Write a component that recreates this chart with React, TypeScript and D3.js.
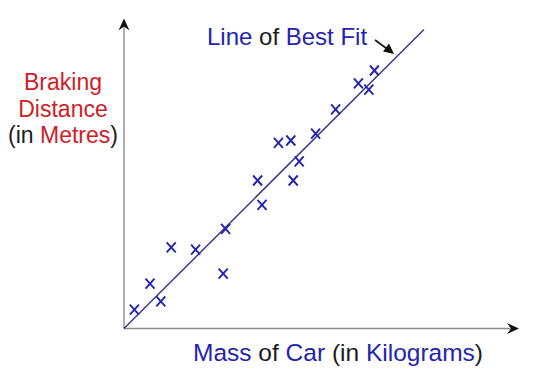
import React from "react";
import * as d3 from "d3";

const massValues = [2.6, 6.5, 9.2, 11.8, 17.9, 24.8, 25.4, 33.4, 34.5, 38.6, 41.7, 42.3, 43.8, 47.9, 52.9, 58.6, 61.2, 62.6];
const distanceValues = [4.7, 11.2, 6.8, 20.3, 19.7, 13.7, 24.9, 37.0, 30.9, 46.4, 47.0, 37.0, 41.8, 48.7, 54.8, 61.3, 59.7, 64.5];
const fitStart = [0, 0];
const fitEnd = [75, 74.75];
const axisMax = [98.75, 77.5];

const BLUE = "#2424b0";
const RED = "#cf2027";
const BLACK = "#1c1c1c";
const FONT = "'Liberation Sans', Arial, sans-serif";

export default function App() {
  const W = 541, H = 390;
  const x = d3.scaleLinear().domain([0, 100]).range([124, 524]);
  const y = d3.scaleLinear().domain([0, 80]).range([328.5, 8.5]);
  const pts = massValues.map((m, i) => [x(m), y(distanceValues[i])]);
  const lineGen = d3.line();
  const fitPath = lineGen([[x(fitStart[0]), y(fitStart[1])], [x(fitEnd[0]), y(fitEnd[1])]]);
  const x0 = x(0), y0 = y(0);
  const xt = x(axisMax[0]), yt = y(axisMax[1]);
  const s = 4.5, t = 5;
  return (
    <svg width={W} height={H} style={{ position: "absolute", left: 0, top: 0, background: "#fff" }}>
      <rect width={W} height={H} fill="#fff" />
      {/* axes */}
      <line x1={x0} y1={y0} x2={x0} y2={yt + 6} stroke="#8a8a8a" strokeWidth={1.4} />
      <line x1={x0} y1={y0} x2={xt - 6} y2={y0} stroke="#8a8a8a" strokeWidth={1.4} />
      <path d={`M${x0},${yt} L${x0 + 5.5},${yt + 12} L${x0},${yt + 8} L${x0 - 5.5},${yt + 12} Z`} fill="#111" />
      <path d={`M${xt},${y0} L${xt - 12},${y0 - 5.5} L${xt - 8},${y0} L${xt - 12},${y0 + 5.5} Z`} fill="#111" />
      {/* best fit line */}
      <path d={fitPath || ""} stroke="#3a3a8c" strokeWidth={1.5} fill="none" />
      {/* data points */}
      {pts.map(([px, py], i) => (
        <path key={i} d={`M${px - s},${py - t} L${px + s},${py + t} M${px + s},${py - t} L${px - s},${py + t}`}
          stroke={BLUE} strokeWidth={1.9} fill="none" />
      ))}
      {/* annotation */}
      <text x={207} y={45} fontFamily={FONT} fontSize={24}>
        <tspan fill={BLUE}>Line</tspan>
        <tspan fill={BLACK}> of </tspan>
        <tspan fill={BLUE}>Best Fit</tspan>
      </text>
      <line x1={375} y1={40} x2={388} y2={49.5} stroke="#111" strokeWidth={1.6} />
      <path d="M394,54 L383,51.5 L389,43.5 Z" fill="#111" />
      {/* y label */}
      <text fontFamily={FONT} fontSize={23} textAnchor="middle">
        <tspan x={63} y={90} fill={RED}>Braking</tspan>
        <tspan x={63} y={117} fill={RED}>Distance</tspan>
        <tspan x={63} y={143}><tspan fill={BLACK}>(in </tspan><tspan fill={RED}>Metres</tspan><tspan fill={BLACK}>)</tspan></tspan>
      </text>
      {/* x label */}
      <text x={193} y={361} fontFamily={FONT} fontSize={24.5}>
        <tspan fill={BLUE}>Mass</tspan>
        <tspan fill={BLACK}> of </tspan>
        <tspan fill={BLUE}>Car</tspan>
        <tspan fill={BLACK}> (in </tspan>
        <tspan fill={BLUE}>Kilograms</tspan>
        <tspan fill={BLACK}>)</tspan>
      </text>
    </svg>
  );
}
